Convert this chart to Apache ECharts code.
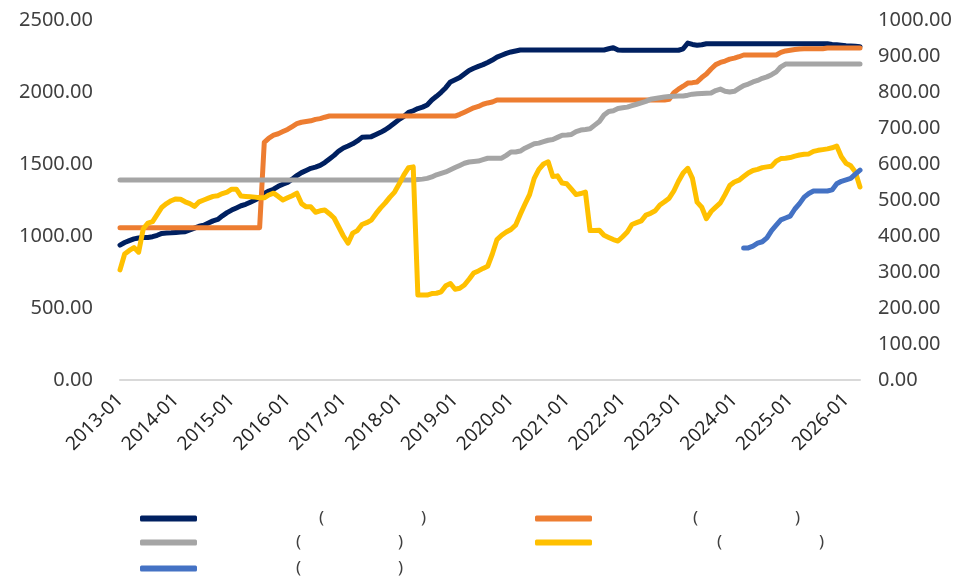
<!DOCTYPE html>
<html>
<head>
<meta charset="utf-8">
<script src="https://cdn.jsdelivr.net/npm/echarts@6/dist/echarts.min.js"></script>
<style>
  html, body { margin: 0; padding: 0; background: #fff; }
  #chart { width: 967px; height: 583px; }
</style>
</head>
<body>
<div id="chart"></div>
<script>
// months 2013-01 .. 2026-04
const months = []
for (let y = 2013; y <= 2026; y++) {
  for (let m = 1; m <= 12; m++) {
    if (y === 2026 && m > 4) break
    months.push(y + "-" + String(m).padStart(2, "0"))
  }
}

const seriesNames = ["s1", "s2", "s3", "s4", "s5"]

// left axis
const navy = [
  937, 955, 968, 980, 986, 990, 990, 995, 1005, 1018,
  1020, 1022, 1025, 1028, 1030, 1042, 1055, 1068, 1075, 1090,
  1105, 1115, 1140, 1162, 1180, 1195, 1210, 1220, 1235, 1250,
  1265, 1295, 1312, 1325, 1345, 1360, 1372, 1395, 1420, 1440,
  1455, 1470, 1478, 1490, 1510, 1535, 1560, 1590, 1611, 1625,
  1640, 1660, 1685, 1688, 1690, 1705, 1720, 1738, 1760, 1785,
  1810, 1830, 1858, 1870, 1885, 1895, 1910, 1944, 1970, 1998,
  2030, 2070, 2085, 2100, 2125, 2150, 2165, 2178, 2190, 2205,
  2222, 2242, 2255, 2268, 2278, 2285, 2292, 2292, 2292,
  2292, 2292, 2292, 2292, 2292, 2292, 2292, 2292, 2292, 2292,
  2292, 2292, 2292, 2292, 2292, 2292, 2300, 2308, 2292, 2290,
  2290, 2290, 2290, 2290, 2290, 2290, 2290, 2290, 2290, 2290,
  2290, 2290, 2300, 2340, 2330, 2325, 2328, 2335, 2335, 2335,
  2335, 2335, 2335, 2335, 2335, 2335, 2335, 2335, 2335, 2335,
  2335, 2335, 2335, 2335, 2335, 2335, 2335, 2335, 2335, 2335,
  2335, 2335, 2335, 2335, 2330, 2328, 2325, 2322, 2320, 2318,
  2315
]

const orange = [
  1058, 1058, 1058, 1058, 1058, 1058, 1058, 1058, 1058, 1058,
  1058, 1058, 1058, 1058, 1058, 1058, 1058, 1058, 1058, 1058,
  1058, 1058, 1058, 1058, 1058, 1058, 1058, 1058, 1058, 1058,
  1058, 1650, 1680, 1700, 1710, 1725, 1740, 1760, 1780, 1790,
  1795, 1800, 1810, 1815, 1825, 1833, 1833, 1833, 1833, 1833,
  1833, 1833, 1833, 1833, 1833, 1833, 1833, 1833, 1833, 1833,
  1833, 1833, 1833, 1833, 1833, 1833, 1833, 1833, 1833, 1833,
  1833, 1833, 1833, 1845, 1860, 1875, 1890, 1900, 1915, 1924,
  1930, 1944, 1944, 1944, 1944, 1944, 1944, 1944, 1944,
  1944, 1944, 1944, 1944, 1944, 1944, 1944, 1944, 1944, 1944,
  1944, 1944, 1944, 1944, 1944, 1944, 1944, 1944, 1944, 1944,
  1944, 1944, 1944, 1944, 1944, 1944, 1944, 1944, 1944, 1950,
  1995, 2020, 2040, 2062, 2065, 2070, 2100, 2125, 2160, 2190,
  2205, 2215, 2228, 2235, 2245, 2257, 2257, 2257, 2257, 2257,
  2257, 2257, 2257, 2275, 2285, 2290, 2295, 2299, 2300, 2300,
  2300, 2300, 2300, 2305, 2305, 2305, 2305, 2305, 2305, 2305,
  2305
]

const gray = [
  1389, 1389, 1389, 1389, 1389, 1389, 1389, 1389, 1389, 1389,
  1389, 1389, 1389, 1389, 1389, 1389, 1389, 1389, 1389, 1389,
  1389, 1389, 1389, 1389, 1389, 1389, 1389, 1389, 1389, 1389,
  1389, 1389, 1389, 1389, 1389, 1389, 1389, 1389, 1389, 1389,
  1389, 1389, 1389, 1389, 1389, 1389, 1389, 1389, 1389, 1389,
  1389, 1389, 1389, 1389, 1389, 1389, 1389, 1389, 1389, 1389,
  1389, 1389, 1389, 1389, 1392, 1395, 1400, 1410, 1425, 1435,
  1445, 1460, 1475, 1490, 1505, 1514, 1518, 1520, 1530, 1540,
  1540, 1540, 1540, 1560, 1583, 1583, 1590, 1610, 1625,
  1640, 1645, 1655, 1665, 1670, 1685, 1700, 1701, 1705, 1725,
  1736, 1740, 1745, 1770, 1795, 1840, 1865, 1870, 1885, 1890,
  1895, 1905, 1915, 1925, 1935, 1950, 1955, 1960, 1965, 1968,
  1970, 1972, 1972, 1978, 1985, 1988, 1990, 1992, 1993, 2010,
  2020, 2005, 2000, 2005, 2025, 2045, 2055, 2070, 2080, 2095,
  2105, 2120, 2140, 2175, 2194, 2194, 2194, 2194, 2194, 2194,
  2194, 2194, 2194, 2194, 2194, 2194, 2194, 2194, 2194, 2194,
  2194
]

// right axis
const yellow = [
  306, 350, 360, 368, 355, 420, 436, 440, 460, 480,
  490, 498, 503, 502, 495, 490, 482, 495, 500, 505,
  510, 512, 518, 522, 530, 530, 511, 510, 509, 508,
  506, 506, 514, 519, 510, 500, 506, 512, 519, 490,
  481, 481, 466, 470, 472, 462, 450, 425, 400, 380,
  408, 415, 432, 437, 444, 462, 478, 492, 508, 522,
  545, 570, 590, 592, 236, 236, 236, 240, 241, 245,
  262, 268, 252, 255, 264, 280, 297, 303, 310, 316,
  350, 390, 402, 411, 418, 430, 460, 488, 515,
  560, 585, 600, 606, 565, 567, 547, 545, 530, 515,
  518, 522, 415, 415, 416, 402, 396, 390, 386, 398,
  411, 432, 437, 442, 458, 463, 470, 486, 495, 505,
  525, 552, 575, 588, 560, 494, 480, 448, 468, 480,
  492, 515, 540, 550, 555, 565, 575, 582, 585, 590,
  592, 594, 608, 615, 616, 618, 622, 625, 627, 628,
  635, 638, 640, 642, 645, 650, 620, 602, 595, 578,
  536
]

const blueStart = "2024-03"
const blue = [
  367, 367, 372, 380, 384, 395, 415, 430, 445, 450,
  455, 475, 490, 508, 518, 525, 525, 525, 525, 528,
  545, 552, 556, 560, 572, 583
]

const colors = ["#002060", "#ED7D31", "#A5A5A5", "#FFC000", "#4472C4"]

const chart = echarts.init(document.getElementById("chart"))

const b0 = months.indexOf(blueStart)
const blueData = blue.map((v, k) => [months[b0 + k], v])

const lineSeries = (name, data, axis, color) => ({
  name: name,
  type: "line",
  yAxisIndex: axis,
  data: data,
  showSymbol: false,
  symbol: "none",
  animation: false,
  lineStyle: { width: 5, color: color, cap: "round", join: "round" },
  itemStyle: { color: color },
})

// legend: the label glyphs are blank in the source, only parentheses show
const legendItem = (name, left, top, pre) => ({
  data: [name],
  left: left,
  top: top,
  padding: 0,
  icon: "roundRect",
  itemWidth: 57,
  itemHeight: 6,
  selectedMode: false,
  formatter: "{a| }{p|(}{b| }{p|)}",
  textStyle: {
    fontFamily: "Noto Sans",
    fontSize: 17,
    color: "#404040",
    rich: {
      a: { width: pre },
      b: { width: 97 },
      p: { fontSize: 17, color: "#404040", fontFamily: "Noto Sans" },
    },
  },
})

const options = {
  animation: false,
  textStyle: { fontFamily: "Noto Sans" },
  grid: { left: 120, right: 107, top: 20, bottom: 203 },
  xAxis: {
    type: "category",
    data: months,
    boundaryGap: false,
    axisLine: { lineStyle: { color: "#d9d9d9", width: 2 } },
    axisTick: { show: false },
    axisLabel: {
      interval: (idx) => idx % 12 === 0,
      rotate: 45,
      margin: 17,
      fontSize: 19,
      color: "#262626",
    },
  },
  yAxis: [
    {
      type: "value",
      min: 0,
      max: 2500,
      interval: 500,
      splitLine: { show: false },
      axisLine: { show: false },
      axisTick: { show: false },
      axisLabel: {
        formatter: (v) => v.toFixed(2),
        fontSize: 20,
        color: "#404040",
        margin: 27,
      },
    },
    {
      type: "value",
      min: 0,
      max: 1000,
      interval: 100,
      position: "right",
      splitLine: { show: false },
      axisLine: { show: false },
      axisTick: { show: false },
      axisLabel: {
        formatter: (v) => v.toFixed(2),
        fontSize: 20,
        color: "#404040",
        margin: 18,
      },
    },
  ],
  legend: [
    legendItem(seriesNames[0], 140, 510, 117),
    legendItem(seriesNames[1], 535, 510, 96),
    legendItem(seriesNames[2], 140, 534, 94),
    legendItem(seriesNames[3], 535, 534, 120),
    legendItem(seriesNames[4], 140, 560, 94),
  ],
  series: [
    lineSeries(seriesNames[0], navy, 0, colors[0]),
    lineSeries(seriesNames[1], orange, 0, colors[1]),
    lineSeries(seriesNames[2], gray, 0, colors[2]),
    lineSeries(seriesNames[3], yellow, 1, colors[3]),
    lineSeries(seriesNames[4], blueData, 1, colors[4]),
  ],
}

chart.setOption(options)
</script>
</body>
</html>
